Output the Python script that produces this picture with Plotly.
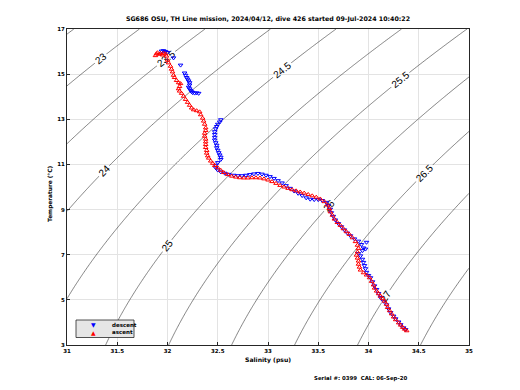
import numpy as np
import plotly.graph_objects as go

# Descent (blue) T-S samples: salinity (psu), temperature (C)
desc_S = [31.94, 31.96, 31.98, 32.00, 32.06, 32.13,
          32.17, 32.18, 32.19, 32.20, 32.21, 32.22, 32.22, 32.21, 32.22, 32.23,
          32.24, 32.25, 32.27, 32.29, 32.31,
          32.53, 32.52, 32.50, 32.49, 32.48, 32.47, 32.47, 32.47, 32.47, 32.48,
          32.49, 32.49, 32.50, 32.51, 32.52, 32.53, 32.53, 32.50, 32.48, 32.48,
          32.50, 32.53, 32.57, 32.61, 32.66, 32.70, 32.74, 32.78, 32.82, 32.86,
          32.90, 32.94, 32.98, 33.02, 33.06, 33.10, 33.14, 33.18, 33.22, 33.26,
          33.30, 33.34, 33.38, 33.42, 33.46, 33.50, 33.54, 33.58, 33.60, 33.62,
          33.63, 33.65, 33.67, 33.70, 33.73, 33.76, 33.79, 33.82, 33.86, 33.90,
          33.93, 33.98, 33.95, 33.97, 33.94, 33.90, 33.92, 33.94, 33.95, 33.96,
          33.97, 33.98, 34.00, 34.02, 34.04, 34.06, 34.08, 34.10, 34.12, 34.15,
          34.18, 34.20, 34.22, 34.25, 34.27, 34.30, 34.32, 34.35, 34.37]
desc_T = [16.02, 16.04, 16.00, 15.96, 15.72, 15.40,
          15.05, 14.95, 14.85, 14.78, 14.70, 14.62, 14.52, 14.42, 14.35, 14.28,
          14.22, 14.18, 14.16, 14.17, 14.15,
          12.98, 12.88, 12.78, 12.68, 12.58, 12.45, 12.33, 12.20, 12.08, 11.96,
          11.85, 11.74, 11.63, 11.52, 11.42, 11.32, 11.22, 11.08, 10.96, 10.85,
          10.75, 10.67, 10.61, 10.56, 10.52, 10.50, 10.50, 10.52, 10.55, 10.58,
          10.60, 10.57, 10.52, 10.46, 10.38, 10.28, 10.18, 10.06, 9.94, 9.82,
          9.72, 9.62, 9.52, 9.46, 9.44, 9.44, 9.40, 9.32, 9.18, 9.02,
          8.86, 8.70, 8.54, 8.38, 8.24, 8.10, 7.96, 7.84, 7.70, 7.60,
          7.45, 7.55, 7.30, 7.25, 7.18, 7.05, 6.95, 6.80, 6.66, 6.52,
          6.38, 6.22, 6.08, 5.98, 5.80, 5.62, 5.46, 5.28, 5.10, 4.94,
          4.78, 4.60, 4.44, 4.28, 4.16, 4.02, 3.90, 3.76, 3.68]

# Ascent (red) T-S samples
asc_S = [31.88, 31.89, 31.90, 31.92, 31.93, 31.95, 31.96, 31.98, 31.99, 32.00,
         32.01, 32.03, 32.04, 32.05, 32.06, 32.07, 32.09, 32.11, 32.13, 32.12,
         32.11, 32.12, 32.14, 32.16, 32.18, 32.20, 32.22, 32.24, 32.26, 32.29,
         32.32, 32.33, 32.35, 32.36, 32.37, 32.38, 32.38, 32.37, 32.37, 32.38,
         32.38, 32.38, 32.38, 32.39, 32.39, 32.40, 32.41, 32.43, 32.45, 32.47,
         32.50, 32.53, 32.56, 32.60, 32.64, 32.68, 32.72, 32.76, 32.80, 32.84,
         32.88, 32.92, 32.96, 33.00, 33.04, 33.08, 33.12, 33.16, 33.20, 33.24,
         33.28, 33.32, 33.36, 33.40, 33.44, 33.48, 33.52, 33.56, 33.59, 33.61,
         33.62, 33.64, 33.66, 33.69, 33.72, 33.75, 33.78, 33.81, 33.84, 33.87,
         33.89, 33.90, 33.89, 33.88, 33.89, 33.90, 33.90, 33.91, 33.92, 33.95,
         33.98, 34.01, 34.03, 34.05, 34.06, 34.08, 34.10, 34.12, 34.14, 34.16,
         34.18, 34.19, 34.21, 34.23, 34.25, 34.27, 34.30, 34.32, 34.34, 34.36, 34.38]
asc_T = [15.82, 15.90, 15.95, 15.88, 15.92, 15.85, 15.93, 15.90, 15.80, 15.62,
         15.50, 15.35, 15.22, 15.10, 14.95, 14.85, 14.72, 14.62, 14.58, 14.45,
         14.35, 14.25, 14.15, 14.02, 13.88, 13.75, 13.62, 13.50, 13.42, 13.38,
         13.33, 13.20, 13.05, 12.92, 12.78, 12.62, 12.50, 12.38, 12.25, 12.12,
         12.00, 11.88, 11.75, 11.62, 11.50, 11.38, 11.28, 11.15, 11.05, 10.95,
         10.85, 10.74, 10.64, 10.55, 10.48, 10.44, 10.41, 10.40, 10.40, 10.41,
         10.41, 10.40, 10.36, 10.31, 10.24, 10.16, 10.07, 10.00, 9.94, 9.88,
         9.83, 9.78, 9.73, 9.67, 9.61, 9.55, 9.47, 9.35, 9.20, 9.05,
         8.90, 8.75, 8.58, 8.43, 8.30, 8.15, 8.02, 7.90, 7.75, 7.58,
         7.42, 7.28, 7.12, 6.98, 6.85, 6.72, 6.58, 6.45, 6.32, 6.20,
         6.10, 5.98, 5.82, 5.66, 5.52, 5.39, 5.27, 5.16, 5.05, 4.94,
         4.80, 4.66, 4.52, 4.38, 4.24, 4.12, 3.98, 3.88, 3.78, 3.70, 3.63]

x_ticks = [31, 31.5, 32, 32.5, 33, 33.5, 34, 34.5, 35]
y_ticks = [3, 5, 7, 9, 11, 13, 15, 17]

title = "SG686 OSU, TH Line mission, 2024/04/12, dive 426 started 09-Jul-2024 10:40:22"
footer = "Serial #: 0399  CAL: 06-Sep-20"
x_title = "Salinity (psu)"
y_title = "Temperature (°C)"
legend_names = ["descent", "ascent"]

# density (sigma) background field, UNESCO EOS80 at p=0
Sg = np.linspace(31, 35, 201)
Tg = np.linspace(3, 17, 201)
SS, TT = np.meshgrid(Sg, Tg)
rw = (999.842594 + 6.793952e-2*TT - 9.095290e-3*TT**2 + 1.001685e-4*TT**3
      - 1.120083e-6*TT**4 + 6.536332e-9*TT**5)
A = 8.24493e-1 - 4.0899e-3*TT + 7.6438e-5*TT**2 - 8.2467e-7*TT**3 + 5.3875e-9*TT**4
B = -5.72466e-3 + 1.0227e-4*TT - 1.6546e-6*TT**2
C = 4.8314e-4
sigma = rw + A*SS + B*SS**1.5 + C*SS**2 - 1000.0

fnt = "DejaVu Sans"
L, R, T, Bm = 67, 51, 29, 45
PW, PH = 520 - L - R, 390 - T - Bm


def px(x):
    return (x - L) / PW


def py(y):
    return (390 - Bm - y) / PH


fig = go.Figure()
fig.add_trace(go.Contour(
    x=Sg, y=Tg, z=sigma,
    contours=dict(start=22.5, end=27.5, size=0.5, coloring='lines', showlabels=True,
                  labelfont=dict(size=10, color='black', family="Liberation Sans")),
    colorscale=[[0, '#303030'], [1, '#303030']], line=dict(width=0.6),
    showscale=False, hoverinfo='skip', showlegend=False))
fig.add_trace(go.Scatter(x=desc_S, y=desc_T, mode='markers', name=legend_names[0],
                         showlegend=False,
                         marker=dict(symbol='triangle-down-open', size=4, color='blue',
                                     line=dict(width=1, color='blue'))))
fig.add_trace(go.Scatter(x=asc_S, y=asc_T, mode='markers', name=legend_names[1],
                         showlegend=False,
                         marker=dict(symbol='triangle-up-open', size=4, color='red',
                                     line=dict(width=1, color='red'))))

axis_common = dict(showgrid=True, gridcolor='#e3e3e3', gridwidth=1, zeroline=False,
                   showline=True, linecolor='#262626', linewidth=1, mirror=True,
                   ticks='inside', ticklen=3, tickcolor='#262626', automargin=False,
                   tickfont=dict(size=5.5, family=fnt, color='black', weight='bold'))
fig.update_xaxes(range=[31, 35], tickvals=x_ticks, ticktext=[f"{v:g}" for v in x_ticks],
                 **axis_common)
fig.update_yaxes(range=[3, 17], tickvals=y_ticks, ticktext=[str(v) for v in y_ticks],
                 **axis_common)

bold = dict(family=fnt, weight='bold', color='black')
ann = [
    dict(text=x_title, x=px(268), y=py(360), font=dict(size=6.1, **bold)),
    dict(text=y_title, x=px(50), y=py(194), textangle=-90, font=dict(size=5.8, **bold)),
    dict(text=footer, x=px(360), y=py(378), font=dict(size=5.4, **bold)),
    dict(text="▼", x=px(93), y=py(324.5), font=dict(size=6, family=fnt, color='blue')),
    dict(text="▲", x=px(93), y=py(332.3), font=dict(size=6, family=fnt, color='red')),
    dict(text=legend_names[0], x=px(110), y=py(324.5), xanchor='left',
         font=dict(size=5.5, **bold)),
    dict(text=legend_names[1], x=px(110), y=py(332.3), xanchor='left',
         font=dict(size=5.5, **bold)),
]
for a in ann:
    a.setdefault('xanchor', 'center')
    a.update(xref='paper', yref='paper', yanchor='middle', showarrow=False)

fig.update_layout(
    width=520, height=390, paper_bgcolor='white', plot_bgcolor='white',
    margin=dict(l=L, r=R, t=T, b=Bm, autoexpand=False),
    showlegend=False,
    title=dict(text=title, x=268/520, xanchor='center', y=1 - 19/390, yanchor='middle',
               font=dict(size=6.3, **bold)),
    annotations=ann,
    shapes=[dict(type='rect', xref='paper', yref='paper', x0=px(76), x1=px(134),
                 y0=py(337.5), y1=py(320), fillcolor='#e6e6e6',
                 line=dict(color='#262626', width=0.8), layer='above')],
)
fig.write_html("out.html", config={'displayModeBar': False},
               post_script="document.body.style.margin='0px';document.body.style.overflow='hidden';")
